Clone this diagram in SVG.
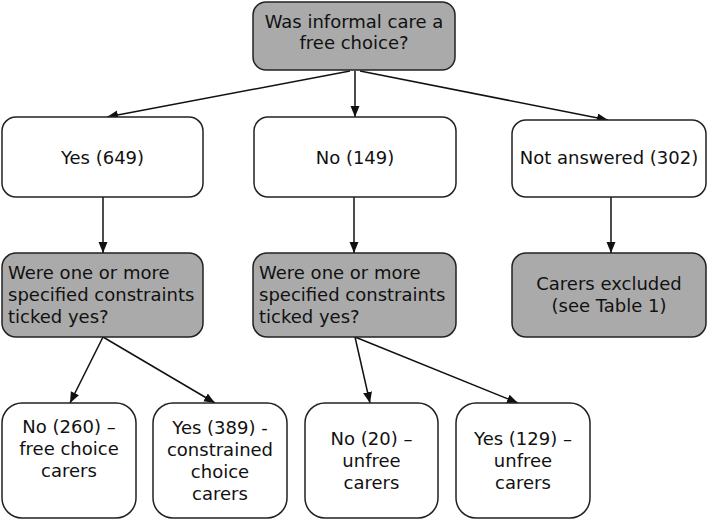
<svg xmlns="http://www.w3.org/2000/svg" width="709" height="521" viewBox="0 0 709 521">
<style>
.box{fill:#ffffff;stroke:#222222;stroke-width:1.5}
.grey{fill:#aaaaaa;stroke:#222222;stroke-width:1.5}
text{font-family:"DejaVu Sans",sans-serif;font-size:18px;fill:#111111}
.c{text-anchor:middle}
.edge{stroke:#111111;stroke-width:1.5;fill:none;marker-end:url(#ah)}
</style>
<defs>
<marker id="ah" markerUnits="userSpaceOnUse" markerWidth="12" markerHeight="10" refX="11" refY="4.5" orient="auto">
<path d="M0,0 L11,4.5 L0,9 z" fill="#111111"/>
</marker>
</defs>
<g id="connectors">
<line class="edge" x1="350" y1="71" x2="107" y2="117"/>
<line class="edge" x1="355" y1="71" x2="355" y2="117"/>
<line class="edge" x1="360" y1="71" x2="608" y2="120"/>
<line class="edge" x1="103" y1="197" x2="103" y2="253"/>
<line class="edge" x1="354" y1="197" x2="354" y2="253"/>
<line class="edge" x1="611" y1="197" x2="611" y2="253"/>
<line class="edge" x1="103" y1="337" x2="70" y2="403"/>
<line class="edge" x1="103" y1="337" x2="215" y2="403"/>
<line class="edge" x1="355" y1="337" x2="370" y2="403"/>
<line class="edge" x1="355" y1="337" x2="518" y2="403"/>
</g>
<g id="n-top">
<rect class="grey" x="253" y="2" width="202" height="68" rx="13"/>
<text class="c" x="354" y="28">Was informal care a</text>
<text class="c" x="354" y="49">free choice?</text>
</g>
<g id="n-yes">
<rect class="box" x="2" y="117" width="201" height="80" rx="14"/>
<text class="c" x="102.5" y="164">Yes (649)</text>
</g>
<g id="n-no">
<rect class="box" x="254" y="117" width="202" height="80" rx="14"/>
<text class="c" x="355" y="164">No (149)</text>
</g>
<g id="n-na">
<rect class="box" x="512" y="120" width="194" height="77" rx="14"/>
<text class="c" x="609" y="164">Not answered (302)</text>
</g>
<g id="n-q1">
<rect class="grey" x="2" y="253" width="201" height="84" rx="14"/>
<text x="8" y="279">Were one or more</text>
<text x="8" y="301">specified constraints</text>
<text x="8" y="323">ticked yes?</text>
</g>
<g id="n-q2">
<rect class="grey" x="253" y="253" width="203" height="84" rx="14"/>
<text x="259" y="279">Were one or more</text>
<text x="259" y="301">specified constraints</text>
<text x="259" y="323">ticked yes?</text>
</g>
<g id="n-excl">
<rect class="grey" x="512" y="253" width="194" height="84" rx="14"/>
<text class="c" x="609" y="290">Carers excluded</text>
<text class="c" x="609" y="312">(see Table 1)</text>
</g>
<g id="n-free">
<rect class="box" x="2" y="403" width="134" height="115" rx="20"/>
<text class="c" x="69" y="433">No (260) –</text>
<text class="c" x="69" y="455">free choice</text>
<text class="c" x="69" y="477">carers</text>
</g>
<g id="n-constrained">
<rect class="box" x="153" y="403" width="134" height="115" rx="20"/>
<text class="c" x="220" y="434">Yes (389) -</text>
<text class="c" x="220" y="456">constrained</text>
<text class="c" x="220" y="478">choice</text>
<text class="c" x="220" y="500">carers</text>
</g>
<g id="n-unfree1">
<rect class="box" x="305" y="403" width="133" height="115" rx="20"/>
<text class="c" x="371.5" y="445">No (20) –</text>
<text class="c" x="371.5" y="467">unfree</text>
<text class="c" x="371.5" y="489">carers</text>
</g>
<g id="n-unfree2">
<rect class="box" x="456" y="403" width="134" height="115" rx="20"/>
<text class="c" x="523" y="445">Yes (129) –</text>
<text class="c" x="523" y="467">unfree</text>
<text class="c" x="523" y="489">carers</text>
</g>
</svg>
